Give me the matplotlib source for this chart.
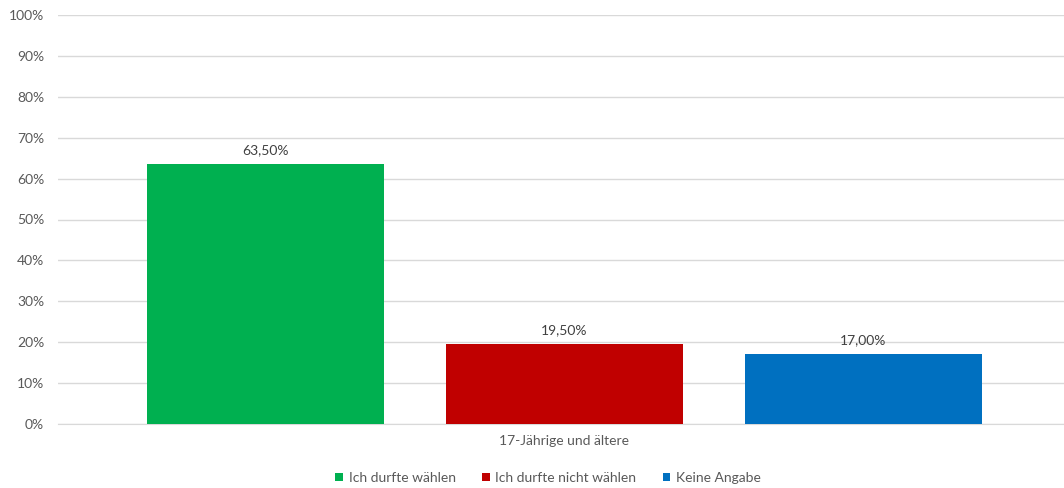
import matplotlib.pyplot as plt
from matplotlib.patches import Patch

plt.rcParams['font.family'] = ['Lato', 'DejaVu Sans']

category = "17-Jährige und ältere"
series = ["Ich durfte wählen", "Ich durfte nicht wählen", "Keine Angabe"]
values = [63.5, 19.5, 17.0]
colors = ["#00B050", "#C00000", "#0070C0"]

text_col = "#595959"

fig = plt.figure(figsize=(10.64, 4.88), dpi=100)
ax = fig.add_axes([58 / 1064, 64 / 488, 1 - 58 / 1064, 409 / 488])

positions = [-1, 0, 1]
bars = ax.bar(positions, [v / 100 for v in values], width=0.795, color=colors, zorder=3)

for b, v in zip(bars, values):
    lbl = f"{v:.2f}".replace(".", ",") + "%"
    ax.annotate(lbl, (b.get_x() + b.get_width() / 2, b.get_height()),
                xytext=(0, 6), textcoords="offset points", ha="center", va="bottom",
                fontsize=10, color="#404040")

ax.set_xlim(-1.694, 1.671)
ax.set_ylim(0, 1)
ax.set_yticks([i / 10 for i in range(11)])
ax.set_yticklabels([f"{i * 10}%" for i in range(11)])
ax.yaxis.grid(True, color="#D9D9D9", linewidth=1, zorder=0)
ax.tick_params(axis="y", length=0, pad=10, labelsize=10, labelcolor=text_col)
ax.set_xticks([0])
ax.set_xticklabels([category])
ax.tick_params(axis="x", length=0, pad=8, labelsize=10, labelcolor=text_col)
for s in ["top", "right", "left"]:
    ax.spines[s].set_visible(False)
ax.spines["bottom"].set_color("#D9D9D9")

handles = [Patch(facecolor=c, label=s) for c, s in zip(colors, series)]
fig.legend(handles=handles, loc="center", bbox_to_anchor=(548 / 1064, 1 - 478 / 488),
           ncol=3, frameon=False, fontsize=10, labelcolor=text_col,
           handlelength=0.55, handleheight=0.55, handletextpad=0.4, columnspacing=1.9)

fig.savefig("out.png", dpi=100)
